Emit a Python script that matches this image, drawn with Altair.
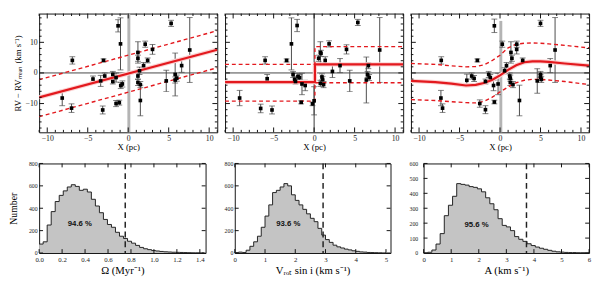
import altair as alt
import pandas as pd
import numpy as np

SERIF = "Liberation Serif"
RED = "#e3191e"
ERRC = "#4a4a4a"

# ---------------- top row: RV residuals vs projected position ----------------
p1_x = [-8.15, -7.0, -6.9, -4.35, -3.4, -3.05, -3.15, -2.9, -1.9, -1.9, -1.5, -1.5, -1.1, -1.25, -0.95,
        -0.92, -0.72, 1.2, 1.2, 1.2, 1.2, 1.4, 1.5, 1.5, 1.9, 2.1, 2.4, 3.0, 4.7, 5.3, 5.8, 5.8, 6.0, 6.6, 7.6]
p1_y = [-8.2, -11.5, 4.1, -2.0, -2.6, 4.1, -12.1, -1.0, -0.5, -2.8, -1.5, -10.0, -9.7, 15.4, 9.5,
        -4.1, -3.6, 6.7, 4.8, -1.0, -3.1, 0.7, -3.8, -9.0, 2.4, 9.4, 4.1, 7.7, -2.6, 16.2, -0.5, -2.3, -1.7, 2.4, 7.5]
p1_e = [2.5, 1.4, 1.2, 1.0, 1.8, 0.5, 1.3, 1.0, 1.0, 0.8, 1.5, 1.0, 0.8, 2.0, 8.5,
        1.0, 1.0, 3.5, 1.0, 1.0, 1.0, 1.2, 1.0, 5.0, 1.0, 1.0, 0.8, 1.6, 3.5, 1.0, 7.0, 1.0, 1.0, 2.2, 10.6]

p2_x = [-9.2, -6.6, -6.05, -5.8, -5.2, -3.4, -2.8, -2.6, -2.4, -2.3, -2.1, -2.0, -1.8, -1.5, -1.6, -1.1, -0.2, 0.0,
        0.56, 0.77, 0.85, 0.97, 1.05, 0.77, 1.17, 1.37, 1.85, 2.26, 3.2, 4.0, 4.4, 5.4, 6.45, 6.6, 6.7, 6.8, 8.1]
p2_y = [-8.2, -11.6, 4.1, -1.9, -12.1, 4.1, 9.5, -0.5, -2.1, -2.8, 15.5, -1.2, -1.5, -3.6, -9.6, -4.1, -10.1, -9.1,
        4.8, 6.7, 6.4, -1.3, -2.1, -3.4, -3.8, 4.1, 9.5, 0.5, 2.4, 7.7, -2.6, 16.5, -2.3, -0.5, 2.4, -1.5, 7.5]
p2_e = [2.5, 1.4, 1.2, 1.4, 1.3, 0.5, 8.5, 1.0, 1.0, 0.8, 2.0, 1.0, 1.0, 3.5, 0.5, 1.7, 0.6, 4.6,
        1.0, 3.5, 1.0, 1.0, 1.0, 1.0, 1.0, 1.2, 1.0, 2.0, 2.3, 1.5, 3.5, 1.0, 7.5, 1.0, 1.0, 1.0, 10.6]

p3_x = [-7.26, -7.3, -7.1, -4.1, -3.5, -3.2, -2.8, -2.5, -1.8, -1.8, -1.4, -1.2, -0.8, -0.7, -0.7, -0.24,
        0.28, 0.56, 0.8, 1.2, 1.27, 1.35, 1.47, 1.27, 1.6, 2.06, 2.06, 2.4, 2.8, 4.6, 5.0, 5.0, 5.0, 5.1, 6.2, 6.8]
p3_y = [4.1, -8.2, -11.5, -2.4, -1.0, -1.8, 4.1, -10.0, -2.8, -12.0, -0.5, -1.5, -4.1, 15.4, -9.5, -3.6,
        9.4, 0.7, 2.4, -1.0, -1.7, 6.7, 4.8, -3.1, -3.8, 9.4, 7.7, -9.0, 4.1, -2.6, 16.2, -0.5, -1.5, -2.1, 2.4, 7.5]
p3_e = [1.2, 2.5, 1.4, 2.0, 1.0, 1.0, 0.5, 1.2, 0.8, 1.3, 1.0, 1.0, 1.7, 2.2, 0.6, 3.5,
        1.0, 1.0, 1.0, 1.0, 1.0, 3.5, 1.0, 1.0, 1.0, 1.0, 1.5, 5.0, 0.8, 4.0, 1.0, 1.0, 1.0, 1.0, 2.3, 10.6]

# fitted models (solid) and confidence limits (dashed)
fit1_x = [-11, 11]
fit1_mid = [-8.0, 7.6]
fit1_up = [-2.2, 13.8]
fit1_lo = [-14.3, 1.7]

fit2_x = [-11, 0.1, 0.1, 11]
fit2_mid = [-3.0, -3.0, 2.8, 2.8]
fit2_up = [2.8, 2.8, 8.6, 8.6]
fit2_lo = [-9.2, -9.2, -3.2, -3.2]

fit3_x = [-11, -8, -6, -4.2, -3, -2, -1, 0, 1, 2, 3, 4, 5, 6, 8, 11]
fit3_mid = [-2.6, -3.0, -3.5, -4.1, -3.9, -3.3, -2.3, -0.8, 1.0, 2.5, 3.5, 3.8, 3.8, 3.6, 3.1, 2.4]
fit3_up = [3.1, 2.8, 2.3, 2.0, 2.1, 2.6, 4.0, 5.8, 8.2, 9.4, 9.7, 9.8, 9.7, 9.5, 9.0, 8.2]
fit3_lo = [-8.7, -9.0, -9.4, -9.7, -9.8, -9.3, -8.0, -6.2, -4.6, -3.2, -2.4, -2.1, -2.1, -2.3, -2.8, -3.8]

# vertical marker at x = 0 : (x, y-from, y-to)
vline1 = (0.08, -19.4, 19.4)
vline2 = (0.0, -19.4, 19.4)
vline3 = (0.1, -19.4, 17.0)

# ---------------- bottom row: histograms ----------------
om_w = 0.035
om_counts = [80, 100, 250, 370, 460, 515, 555, 590, 610, 595, 560, 570, 545, 480, 420, 360, 300, 255, 230, 185,
             150, 130, 105, 88, 68, 50, 38, 30, 22, 18, 14, 11, 9, 7, 6, 5, 4, 3, 2, 2, 1]
v_w = 0.125
v_counts = [3, 8, 5, 25, 60, 100, 150, 230, 330, 430, 540, 560, 590, 620, 600, 520, 470, 430, 390, 350,
            310, 280, 220, 160, 120, 95, 70, 55, 45, 35, 28, 20, 15, 10, 8, 5, 4, 3, 2, 1]
a_w = 0.15
a_counts = [0, 5, 20, 60, 130, 250, 320, 380, 465, 460, 455, 445, 440, 430, 410, 370, 330, 290, 230, 185,
            175, 150, 110, 92, 78, 62, 50, 40, 32, 25, 18, 12, 8, 6, 4, 3, 3, 2, 2, 1]
limits = [0.75, 2.92, 3.73]
pct_text = ["94.6 %", "93.6 %", "95.6 %"]
pct_x = [0.355, 1.77, 1.92]
pct_y = [257, 263, 188]


def frame_ticks(xs, ys, xaxis, yaxis, xmaj, xmin, ymaj, ymin, W, H, L=5, l=2.5):
    layers = []
    for vals, ln in ((xmaj, L), (xmin, l)):
        if not vals:
            continue
        d = pd.DataFrame({"v": vals})
        x_enc = alt.X("v:Q", scale=xs, axis=xaxis)
        layers.append(alt.Chart(d).mark_rule(color="#111", strokeWidth=1).encode(
            x=x_enc, y=alt.value(H), y2=alt.value(H - ln)))
        layers.append(alt.Chart(d).mark_rule(color="#111", strokeWidth=1).encode(
            x=x_enc, y=alt.value(0), y2=alt.value(ln)))
    for vals, ln in ((ymaj, L), (ymin, l)):
        if not vals:
            continue
        d = pd.DataFrame({"v": vals})
        y_enc = alt.Y("v:Q", scale=ys, axis=yaxis)
        layers.append(alt.Chart(d).mark_rule(color="#111", strokeWidth=1).encode(
            y=y_enc, x=alt.value(0), x2=alt.value(ln)))
        layers.append(alt.Chart(d).mark_rule(color="#111", strokeWidth=1).encode(
            y=y_enc, x=alt.value(W), x2=alt.value(W - ln)))
    return layers


def scatter_panel(px, py, pe, fx, fmid, fup, flo, vline, vstyle, show_y, W=183, H=122):
    xs = alt.Scale(domain=[-11, 11], nice=False, zero=False)
    ys = alt.Scale(domain=[-19.4, 19.4], nice=False, zero=False)
    xaxis = alt.Axis(values=[-10, -5, 0, 5, 10], title="X (pc)", ticks=False, domain=False, grid=False,
                     labelFlush=False, labelFontSize=8, labelPadding=2, titleFontSize=9, titlePadding=1,
                     labelFont=SERIF, titleFont=SERIF, titleFontWeight="normal", labelColor="#222")
    if show_y:
        yaxis = alt.Axis(values=[-10, 0, 10], title="RV − RVₘₑₐₙ (km s⁻¹)", ticks=False, domain=False,
                         grid=False, labelFontSize=8, labelPadding=2, titleFontSize=9, titlePadding=3,
                         labelFont=SERIF, titleFont=SERIF, titleFontWeight="normal", labelColor="#222")
    else:
        yaxis = None
    pts = pd.DataFrame({"x": px, "y": py, "e": pe})
    pts["lo"] = pts["y"] - pts["e"]
    pts["hi"] = pts["y"] + pts["e"]
    fit = pd.DataFrame({"x": fx, "mid": fmid, "up": fup, "lo": flo, "i": list(range(len(fx)))})
    vl = pd.DataFrame({"x": [vline[0]], "y1": [vline[1]], "y2": [vline[2]]})
    zero = pd.DataFrame({"y": [0.0]})

    X = lambda f: alt.X(f, scale=xs, axis=xaxis)
    Y = lambda f: alt.Y(f, scale=ys, axis=yaxis)

    base_pts = alt.Chart(pts)
    layers = []
    if vstyle == "gray":
        layers.append(alt.Chart(vl).mark_rule(color="#b4b4b4", strokeWidth=3).encode(
            x=X("x:Q"), y=Y("y1:Q"), y2="y2:Q"))
    else:
        layers.append(alt.Chart(vl).mark_rule(color="#333", strokeWidth=1).encode(
            x=X("x:Q"), y=Y("y1:Q"), y2="y2:Q"))
    layers.append(alt.Chart(zero).mark_rule(color="#444", strokeWidth=1).encode(y=Y("y:Q")))
    # error bars
    layers.append(base_pts.mark_rule(color=ERRC, strokeWidth=1).encode(
        x=X("x:Q"), y=Y("lo:Q"), y2="hi:Q"))
    for col in ("lo", "hi"):
        layers.append(base_pts.mark_tick(color=ERRC, orient="horizontal", size=6, thickness=1).encode(
            x=X("x:Q"), y=Y(col + ":Q")))
    # fit lines
    layers.append(alt.Chart(fit).mark_line(color="#fbd3d3", strokeWidth=4.5, clip=True).encode(
        x=X("x:Q"), y=Y("mid:Q"), order="i:Q"))
    for col in ("up", "lo"):
        layers.append(alt.Chart(fit).mark_line(color=RED, strokeWidth=1.4, strokeDash=[4, 3], clip=True).encode(
            x=X("x:Q"), y=Y(col + ":Q"), order="i:Q"))
    layers.append(alt.Chart(fit).mark_line(color=RED, strokeWidth=2.2, clip=True).encode(
        x=X("x:Q"), y=Y("mid:Q"), order="i:Q"))
    # points
    layers.append(base_pts.mark_point(shape="square", filled=True, color="#000", size=14, opacity=1).encode(
        x=X("x:Q"), y=Y("y:Q")))
    layers += frame_ticks(xs, ys, xaxis, yaxis, [-10, -5, 0, 5, 10], [v for v in range(-11, 12) if v % 5 != 0],
                          [-10, 0, 10], [v for v in range(-18, 19, 2) if v % 10 != 0], W, H)
    return alt.layer(*layers).properties(width=W, height=H)


def hist_panel(w, counts, xdom, ydom, xvals, xfmt, yvals, title, show_title, limit, txt, tx, ty,
               W, H, lab_pad):
    edges = [round(w * k, 6) for k in range(len(counts) + 1)]
    d = pd.DataFrame({"x": edges, "n": list(counts) + [0]})
    xs = alt.Scale(domain=xdom, nice=False, zero=False)
    ys = alt.Scale(domain=ydom, nice=False)
    xaxis = alt.Axis(values=xvals, format=xfmt, title=title, ticks=False, domain=False, grid=False,
                     labelFlush=False, labelFontSize=7, labelPadding=3, titleFontSize=11, titlePadding=2,
                     labelFont=SERIF, titleFont=SERIF, titleFontWeight="normal", labelColor="#222")
    yaxis = alt.Axis(values=yvals, title="Number" if show_title else "", ticks=False, domain=False,
                     grid=False, labelFontSize=6, labelPadding=lab_pad, titleFontSize=10, titlePadding=10,
                     labelFont=SERIF, titleFont=SERIF, titleFontWeight="normal", labelColor="#222")
    X = lambda f: alt.X(f, scale=xs, axis=xaxis)
    Y = lambda f: alt.Y(f, scale=ys, axis=yaxis)
    layers = [
        alt.Chart(d).mark_area(interpolate="step-after", color="#c4c4c4").encode(x=X("x:Q"), y=Y("n:Q")),
        alt.Chart(d).mark_line(interpolate="step-after", color="#222", strokeWidth=1).encode(
            x=X("x:Q"), y=Y("n:Q")),
        alt.Chart(pd.DataFrame({"v": [limit]})).mark_rule(color="#222", strokeWidth=1.5,
                                                          strokeDash=[6, 4]).encode(x=X("v:Q")),
        alt.Chart(pd.DataFrame({"x": [tx], "y": [ty], "t": [txt]})).mark_text(
            font="Liberation Sans", fontWeight="bold", fontSize=8, color="#111").encode(
            x=X("x:Q"), y=Y("y:Q"), text="t:N"),
    ]
    layers += frame_ticks(xs, ys, xaxis, yaxis, xvals, [], yvals, [], W, H, L=4)
    return alt.layer(*layers).properties(width=W, height=H)


top = alt.hconcat(
    scatter_panel(p1_x, p1_y, p1_e, fit1_x, fit1_mid, fit1_up, fit1_lo, vline1, "gray", True),
    scatter_panel(p2_x, p2_y, p2_e, fit2_x, fit2_mid, fit2_up, fit2_lo, vline2, "black", False),
    scatter_panel(p3_x, p3_y, p3_e, fit3_x, fit3_mid, fit3_up, fit3_lo, vline3, "gray", False),
    spacing=6,
)

bottom = alt.hconcat(
    hist_panel(om_w, om_counts, [0, 1.45], [0, 800], [0, 0.2, 0.4, 0.6, 0.8, 1.0, 1.2, 1.4], ".1f",
               [0, 200, 400, 600, 800], "Ω (Myr⁻¹)", True, limits[0], pct_text[0], pct_x[0], pct_y[0],
               171, 92, 2),
    hist_panel(v_w, v_counts, [0, 5.15], [0, 800], [0, 1, 2, 3, 4, 5], "d",
               [0, 200, 400, 600, 800], "Vᵣₒₜ sin i (km s⁻¹)", False, limits[1], pct_text[1], pct_x[1],
               pct_y[1], 160, 92, 2),
    hist_panel(a_w, a_counts, [0, 6], [0, 600], [0, 1, 2, 3, 4, 5, 6], "d",
               [0, 100, 200, 300, 400, 500, 600], "A (km s⁻¹)", False, limits[2], pct_text[2], pct_x[2],
               pct_y[2], 170, 92, 6),
    spacing=17,
)

chart = alt.vconcat(top, bottom, spacing=7).properties(
    padding={"left": 0, "top": 0, "right": 0, "bottom": 0}
).configure_view(stroke="#111", strokeWidth=1)

chart.save("out.html", embed_options={"renderer": "svg", "actions": False})
